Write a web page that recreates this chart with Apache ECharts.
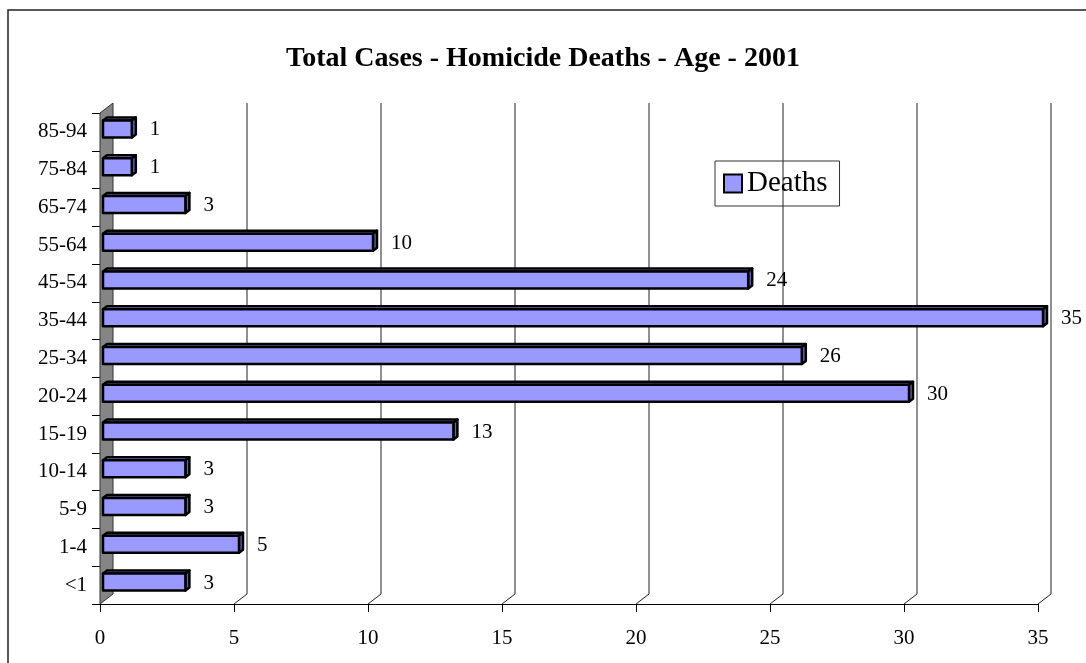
<!DOCTYPE html>
<html>
<head>
<meta charset="utf-8">
<title>Total Cases - Homicide Deaths - Age - 2001</title>
<script src="https://cdn.jsdelivr.net/npm/echarts@6/dist/echarts.min.js"></script>
<style>
    html, body { margin: 0; padding: 0; background: #fff; }
    #chart { width: 1086px; height: 663px; }
</style>
</head>
<body>
<div id="chart"></div>
<script>
// 数据
const ageGroups = ['<1', '1-4', '5-9', '10-14', '15-19', '20-24', '25-34', '35-44', '45-54', '55-64', '65-74', '75-84', '85-94'];
const deaths = [3, 5, 3, 3, 13, 30, 26, 35, 24, 10, 3, 1, 1];
const xTicks = [0, 5, 10, 15, 20, 25, 30, 35];

const serif = '"Liberation Serif", "Times New Roman", serif';
const depthX = 13; // 3D 背景墙偏移
const depthY = 10;

let chart = echarts.init(document.getElementById('chart'));

// 背景网格线 + 左侧灰色墙
function renderBackGrid(params, api) {
    let cs = params.coordSys;
    let k = api.value(0);
    let x = api.coord([k, 0])[0];
    let bottom = cs.y + cs.height;
    let top = cs.y;
    if (k === 0) {
        return {
            type: 'polygon',
            shape: { points: [[x, bottom], [x + depthX, bottom - depthY], [x + depthX, top - depthY], [x, top]] },
            style: { fill: '#858585', stroke: '#333', lineWidth: 1 }
        };
    }
    return {
        type: 'polyline',
        shape: { points: [[x, bottom], [x + depthX, bottom - depthY], [x + depthX, top - depthY]] },
        style: { fill: null, stroke: '#222', lineWidth: 1 }
    };
}

// 3D 柱子
function renderBar(params, api) {
    let v = api.value(0);
    let start = api.coord([0, api.value(1)]);
    let end = api.coord([v, api.value(1)]);
    let x0 = start[0] + 3;
    let x1 = end[0] + 5;
    let yc = end[1] - 3;
    let h = 17;
    let yt = yc - h / 2;
    let yb = yc + h / 2;
    let d = 4, dy = 3;
    let line = { stroke: '#000', lineWidth: 2.5, lineJoin: 'round' };
    return {
        type: 'group',
        children: [
            {
                type: 'polygon',
                shape: { points: [[x0, yt], [x0 + d, yt - dy], [x1 + d, yt - dy], [x1, yt]] },
                style: Object.assign({ fill: '#9d9dff' }, line)
            },
            {
                type: 'polygon',
                shape: { points: [[x1, yt], [x1 + d, yt - dy], [x1 + d, yb - dy], [x1, yb]] },
                style: Object.assign({ fill: '#6464b0' }, line)
            },
            {
                type: 'rect',
                shape: { x: x0, y: yt, width: x1 - x0, height: h },
                style: Object.assign({ fill: '#9999ff' }, line)
            },
            {
                type: 'text',
                x: x1 + d + 14,
                y: yc + 1,
                style: {
                    text: String(v),
                    font: '21px ' + serif,
                    fill: '#000',
                    verticalAlign: 'middle',
                    align: 'left'
                }
            }
        ]
    };
}

let option = {
    animation: false,
    backgroundColor: '#fff',
    title: {
        text: 'Total Cases - Homicide Deaths - Age - 2001',
        left: 'center',
        top: 40,
        textStyle: { fontFamily: serif, fontSize: 28, fontWeight: 'bold', color: '#000' }
    },
    legend: {
        data: [{
            name: 'Deaths',
            icon: 'rect',
            itemStyle: { color: '#9999ff', borderColor: '#000', borderWidth: 2 }
        }],
        left: 715,
        top: 161,
        padding: [8, 12, 8, 8],
        itemWidth: 18,
        itemHeight: 18,
        itemGap: 4,
        borderColor: '#333',
        borderWidth: 1,
        textStyle: { fontFamily: serif, fontSize: 29, color: '#000' }
    },
    grid: {
        left: 100,
        right: 48,
        top: 113,
        bottom: 59
    },
    xAxis: {
        type: 'value',
        min: 0,
        max: 35,
        interval: 5,
        splitLine: { show: false },
        axisLine: { show: true, lineStyle: { color: '#000', width: 1 } },
        axisTick: { show: true, length: 8, lineStyle: { color: '#000' } },
        axisLabel: { fontFamily: serif, fontSize: 21, color: '#000', margin: 24 }
    },
    yAxis: {
        type: 'category',
        data: ageGroups,
        axisLine: { show: true, lineStyle: { color: '#000', width: 1 } },
        axisTick: { show: true, length: 8, lineStyle: { color: '#000' } },
        axisLabel: { fontFamily: serif, fontSize: 21, color: '#000', margin: 13 }
    },
    series: [
        {
            name: 'grid',
            type: 'custom',
            renderItem: renderBackGrid,
            data: xTicks.map(k => [k, 0]),
            encode: { x: 0, y: 1 },
            silent: true,
            z: 1
        },
        {
            name: 'Deaths',
            type: 'custom',
            renderItem: renderBar,
            data: deaths.map((v, i) => [v, i]),
            encode: { x: 0, y: 1 },
            itemStyle: { color: '#9999ff' },
            z: 3
        }
    ],
    graphic: [
        {
            // 外框
            type: 'rect',
            shape: { x: 8, y: 10, width: 1090, height: 670 },
            style: { fill: null, stroke: '#222', lineWidth: 1.5 },
            silent: true
        }
    ]
};

chart.setOption(option);
</script>
</body>
</html>
